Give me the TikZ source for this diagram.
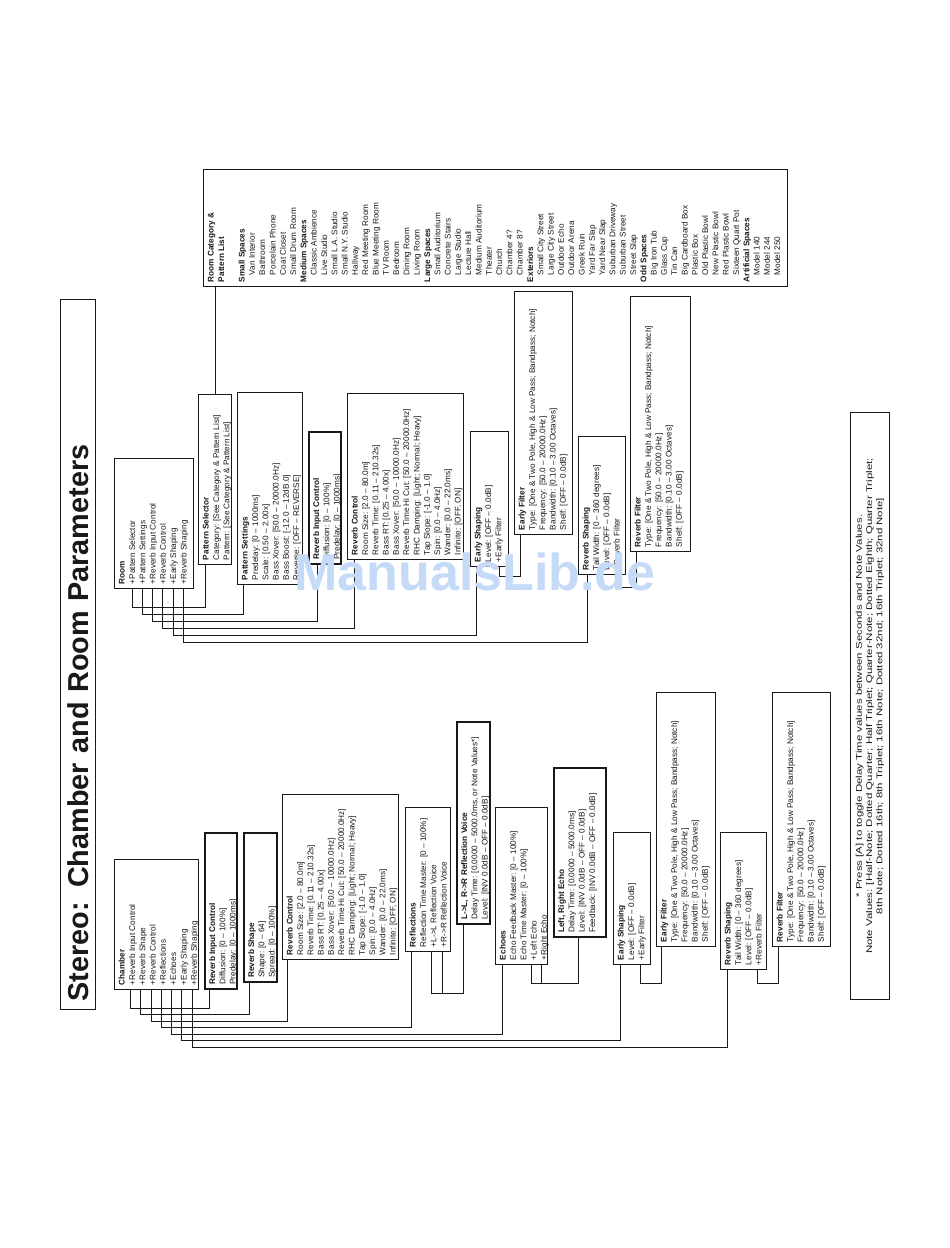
\documentclass[tikz,border=0pt]{standalone}
\usepackage{fontspec}
\setmainfont{Liberation Sans}
\newfontfamily\footfont[FakeStretch=1.38]{Liberation Sans}
\usetikzlibrary{calc}
\definecolor{wm}{RGB}{196,218,246}
\definecolor{ink}{RGB}{25,25,25}
\newcommand\mybodyfont{\fontsize{8.2}{10.3}\selectfont}
\newcommand\mytb[1]{\begin{tabular}[t]{@{}l@{}}#1\end{tabular}}
\newcommand\ind{\hspace*{7pt}}
\tikzset{
  pbox/.style={draw=ink, line width=1pt, rotate=90, anchor=north west,
    inner xsep=4.5pt, inner ysep=3pt, font=\mybodyfont, text=ink},
  pthick/.style={pbox, line width=1.8pt},
  wire/.style={draw=ink, line width=0.75pt},
}
% style, name, xl, xr, yt, yb, content
\newcommand\pbx[7][pbox]{%
  \pgfmathsetmacro\bxL{#6-#5-9}%
  \pgfmathsetmacro\bxD{#4-#3-6}%
  \node[#1] (#2) at (#3,#6) {\parbox[t][\bxD pt][t]{\bxL pt}{\mytb{#7}}};%
}
\begin{document}
\begin{tikzpicture}[x=1pt,y=-1pt]
\useasboundingbox (0,0) rectangle (950,1248);
\fill[white] (0,0) rectangle (950,1248);

% title
\node[draw=ink, line width=1pt, rotate=90, anchor=north west, minimum width=710pt,
  minimum height=35pt, text width=694pt, align=left, inner xsep=8pt, inner ysep=0pt,
  font=\bfseries\fontsize{28.8}{30}\selectfont, text=ink] (title) at (60,1010)
  {Stereo: Chamber and Room Parameters};

% ---------- Room side ----------
\pbx{room}{114}{193}{459}{589}{\textbf{Room}\\+Pattern Selector\\+Pattern Settings\\+Reverb Input Control\\+Reverb Control\\+Early Shaping\\+Reverb Shaping}
\pbx{psel}{198}{231}{395}{565}{\textbf{Pattern Selector}\\Category: [See Category \& Pattern List]\\Pattern: [See Category \& Pattern List]}
\pbx{pset}{237}{302}{393}{585}{\textbf{Pattern Settings}\\Predelay: [0 – 1000ms]\\Scale: [0.50 – 2.00x]\\Bass Xover: [50.0 – 20000.0Hz]\\Bass Boost: [-12.0 – 12dB.0]\\Reverse: [OFF – REVERSE]}
\pbx[pthick]{ricA}{308}{340}{433}{565}{\textbf{Reverb Input Control}\\Diffusion: [0 – 100\%]\\Predelay: [0 – 1000ms]}
\pbx{rcA}{347}{463}{394}{560}{\textbf{Reverb Control}\\Room Size: [2.0 – 80.0m]\\Reverb Time: [0.11 – 210.32s]\\Bass RT: [0.25 – 4.00x]\\Bass Xover: [50.0 – 10000.0Hz]\\Reverb Time Hi Cut: [50.0 – 20000.0Hz]\\RHC Damping: [Light; Normal; Heavy]\\Tap Slope: [-1.0 – 1.0]\\Spin: [0.0 – 4.0Hz]\\Wander: [0.0 – 22.0ms]\\Infinite: [OFF, ON]}
\pbx{esA}{470}{508}{432}{567}{\textbf{Early Shaping}\\Level: [OFF – 0.0dB]\\+Early Filter}
\pbx{efA}{514}{572}{292}{535}{\textbf{Early Filter}\\Type: [One \& Two Pole, High \& Low Pass; Bandpass; Notch]\\Frequency: [50.0 – 20000.0Hz]\\Bandwidth: [0.10 – 3.00 Octaves]\\Shelf: [OFF – 0.0dB]}
\pbx{rsA}{578}{625}{437}{575}{\textbf{Reverb Shaping}\\Tail Width: [0 – 360 degrees]\\Level: [OFF – 0.0dB]\\+Reverb Filter}
\pbx{rfA}{630}{690}{297}{552}{\textbf{Reverb Filter}\\Type: [One \& Two Pole, High \& Low Pass; Bandpass; Notch]\\Frequency: [50.0 – 20000.0Hz]\\Bandwidth: [0.10 – 3.00 Octaves]\\Shelf: [OFF – 0.0dB]}
\pbx{rcat}{203}{787}{170}{287}{\textbf{Room Category \&}\\\textbf{Pattern List}\\ \\
\textbf{Small Spaces}\\\ind Van Interior\\\ind Bathroom\\\ind Porcelain Phone\\\ind Coat Closet\\\ind Small Drum Room\\
\textbf{Medium Spaces}\\\ind Classic Ambience\\\ind Live Studio\\\ind Small L.A. Studio\\\ind Small N.Y. Studio\\\ind Hallway\\\ind Red Meeting Room\\\ind Blue Meeting Room\\\ind TV Room\\\ind Bedroom\\\ind Dining Room\\\ind Living Room\\
\textbf{Large Spaces}\\\ind Small Auditorium\\\ind Concrete Stairs\\\ind Large Studio\\\ind Lecture Hall\\\ind Medium Auditorium\\\ind Theater\\\ind Church\\\ind Chamber 4?\\\ind Chamber 8?\\
\textbf{Exteriors}\\\ind Small City Street\\\ind Large City Street\\\ind Outdoor Echo\\\ind Outdoor Arena\\\ind Greek Ruin\\\ind Yard Far Slap\\\ind Yard Near Slap\\\ind Suburban Driveway\\\ind Suburban Street\\\ind Street Slap\\
\textbf{Odd Spaces}\\\ind Big Iron Tub\\\ind Glass Cup\\\ind Tin Can\\\ind Big Cardboard Box\\\ind Plastic Box\\\ind Old Plastic Bowl\\\ind New Plastic Bowl\\\ind Red Plastic Bowl\\\ind Sixteen Quart Pot\\
\textbf{Artificial Spaces}\\\ind Model 140\\\ind Model 244\\\ind Model 250}

% room connectors
\draw[wire] ([xshift=18pt]room.north west) -- ++(0,18) -| ([xshift=7pt]psel.north west);
\draw[wire] ([xshift=28pt]room.north west) -- ++(0,25) -| ([xshift=6pt]pset.north west);
\draw[wire] ([xshift=38pt]room.north west) -- ++(0,32) -| ([xshift=9pt]ricA.north west);
\draw[wire] ([xshift=48pt]room.north west) -- ++(0,39) -| ([xshift=7pt]rcA.north west);
\draw[wire] ([xshift=59pt]room.north west) -- ++(0,46) -| ([xshift=6pt]esA.north west);
\draw[wire] ([xshift=69pt]room.north west) -- ++(0,53) -| ([xshift=9pt]rsA.north west);
\path ([xshift=17pt]psel.north east) coordinate (pselin);
\draw[wire] (pselin) -- (pselin |- rcat.north west);
\draw[wire] ([xshift=29pt]esA.north west) -- ++(0,9) -| ([xshift=6pt]efA.north west);
\draw[wire] ([xshift=37pt]rsA.north west) -- ++(0,12) -| ([xshift=6pt]rfA.north west);

% ---------- Chamber side ----------
\pbx{chamber}{114}{198}{860}{990}{\textbf{Chamber}\\+Reverb Input Control\\+Reverb Shape\\+Reverb Control\\+Reflections\\+Echoes\\+Early Shaping\\+Reverb Shaping}
\pbx[pthick]{ricB}{204}{236}{834}{990}{\textbf{Reverb Input Control}\\Diffusion: [0 – 100\%]\\Predelay: [0 – 1000ms]}
\pbx[pthick]{rshape}{243}{276}{834}{983}{\textbf{Reverb Shape}\\Shape: [0 – 64]\\Spread: [0 – 100\%]}
\pbx{rcB}{282}{398}{795}{960}{\textbf{Reverb Control}\\Room Size: [2.0 – 80.0m]\\Reverb Time: [0.11 – 210.32s]\\Bass RT: [0.25 – 4.00x]\\Bass Xover: [50.0 – 10000.0Hz]\\Reverb Time Hi Cut: [50.0 – 20000.0Hz]\\RHC Damping: [Light; Normal; Heavy]\\Tap Slope: [-1.0 – 1.0]\\Spin: [0.0 – 4.0Hz]\\Wander: [0.0 – 22.0ms]\\Infinite: [OFF, ON]}
\pbx{refl}{405}{450}{808}{952}{\textbf{Reflections}\\Reflection Time Master: [0 – 100\%]\\+L->L Reflection Voice\\+R->R Reflection Voice}
\pbx[pthick]{voice}{456}{489}{723}{925}{\textbf{L->L, R->R Reflection Voice}\\Delay Time: [0.0000 – 5000.0ms, or Note Values*]\\Level: [INV 0.0dB – OFF – 0.0dB]}
\pbx{echo}{495}{547}{808}{965}{\textbf{Echoes}\\Echo Feedback Master: [0 – 100\%]\\Echo Time Master: [0 – 100\%]\\+Left Echo\\+Right Echo}
\pbx[pthick]{lrecho}{553}{605}{769}{938}{\textbf{Left, Right Echo}\\Delay Time: [0.0000 – 5000.0ms]\\Level: [INV 0.0dB – OFF – 0.0dB]\\Feedback: [INV 0.0dB – OFF – 0.0dB]}
\pbx{esB}{613}{650}{833}{965}{\textbf{Early Shaping}\\Level: [OFF – 0.0dB]\\+Early Filter}
\pbx{efB}{656}{715}{693}{947}{\textbf{Early Filter}\\Type: [One \& Two Pole, High \& Low Pass; Bandpass; Notch]\\Frequency: [50.0 – 20000.0Hz]\\Bandwidth: [0.10 – 3.00 Octaves]\\Shelf: [OFF – 0.0dB]}
\pbx{rsB}{720}{766}{833}{970}{\textbf{Reverb Shaping}\\Tail Width: [0 – 360 degrees]\\Level: [OFF – 0.0dB]\\+Reverb Filter}
\pbx{rfB}{772}{830}{693}{947}{\textbf{Reverb Filter}\\Type: [One \& Two Pole, High \& Low Pass; Bandpass; Notch]\\Frequency: [50.0 – 20000.0Hz]\\Bandwidth: [0.10 – 3.00 Octaves]\\Shelf: [OFF – 0.0dB]}

% chamber connectors
\draw[wire] ([xshift=16.3pt]chamber.north west) -- ++(0,18)   -| ([xshift=5pt]ricB.north west);
\draw[wire] ([xshift=26.6pt]chamber.north west) -- ++(0,24.5) -| ([xshift=6pt]rshape.north west);
\draw[wire] ([xshift=36.9pt]chamber.north west) -- ++(0,31)   -| ([xshift=5pt]rcB.north west);
\draw[wire] ([xshift=47.2pt]chamber.north west) -- ++(0,37.5) -| ([xshift=6pt]refl.north west);
\draw[wire] ([xshift=57.5pt]chamber.north west) -- ++(0,44)   -| ([xshift=7pt]echo.north west);
\draw[wire] ([xshift=67.8pt]chamber.north west) -- ++(0,50.5) -| ([xshift=7pt]esB.north west);
\draw[wire] ([xshift=78.1pt]chamber.north west) -- ++(0,57)   -| ([xshift=7pt]rsB.north west);
\draw[wire] ([xshift=26.6pt]refl.north west) -- ++(0,41) -| ([xshift=7pt]voice.north west);
\draw[wire] ([xshift=36.9pt]refl.north west) -- ++(0,41);
\draw[wire] ([xshift=36pt]echo.north west) -- ++(0,18) -| ([xshift=25pt]lrecho.north west);
\draw[wire] ([xshift=46.3pt]echo.north west) -- ++(0,18);
\draw[wire] ([xshift=27pt]esB.north west) -- ++(0,18) -| ([xshift=5pt]efB.north west);
\draw[wire] ([xshift=37.5pt]rsB.north west) -- ++(0,13) -| ([xshift=6pt]rfB.north west);

% footnote
\node[draw=ink, line width=1pt, rotate=90, anchor=north west, minimum width=587pt,
  minimum height=39pt, align=center, inner sep=2pt, font=\footfont\fontsize{8.3}{10.3}\selectfont, text=ink] (foot) at (850,1000)
  {* Press [A] to toggle Delay Time values between Seconds and Note Values.\\
   Note Values: [Half-Note; Dotted Quarter; Half Triplet; Quarter-Note; Dotted Eighth; Quarter Triplet;\\
   8th Note; Dotted 16th; 8th Triplet; 16th Note; Dotted 32nd; 16th Triplet; 32nd Note]};

% watermark
\node[font=\bfseries\fontsize{52}{52}\selectfont, text=wm, inner sep=0pt] (wmark) at (475,572) {ManualsLib.de};
\end{tikzpicture}
\end{document}
